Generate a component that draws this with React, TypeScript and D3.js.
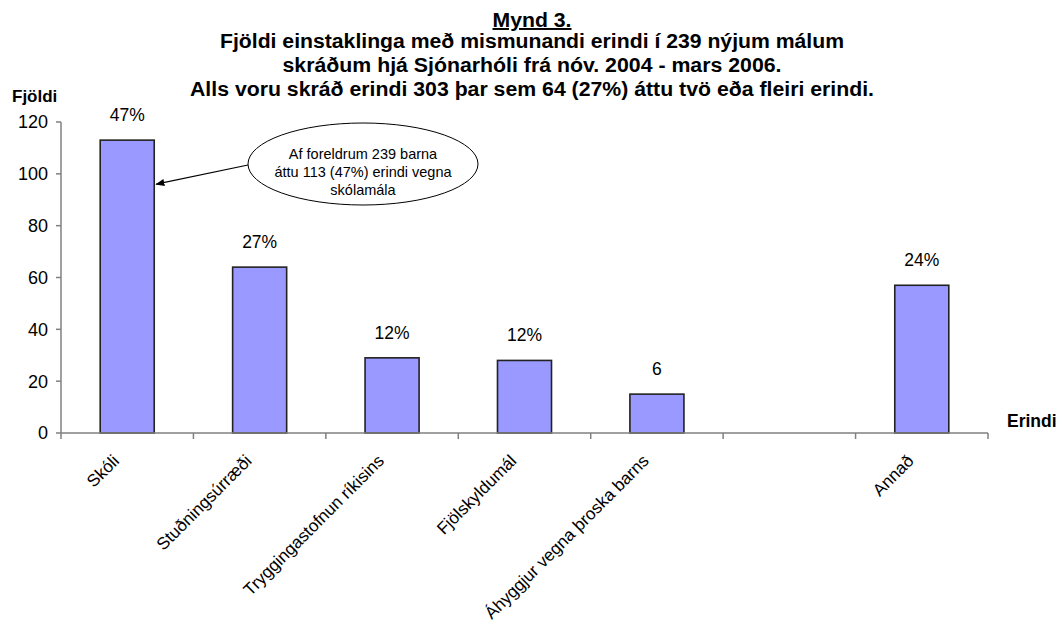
import * as d3 from 'd3'

const categories = ['Skóli', 'Stuðningsúrræði', 'Tryggingastofnun ríkisins', 'Fjölskyldumál', 'Áhyggjur vegna þroska barns', '', 'Annað']
const counts = [113, 64, 29, 28, 15, 0, 57]
const barLabels = ['47%', '27%', '12%', '12%', '6', '', '24%']
const yTicks = [0, 20, 40, 60, 80, 100, 120]
const titleHead = 'Mynd 3.'
const titleLines = [
  'Fjöldi einstaklinga með mismunandi erindi í 239 nýjum málum',
  'skráðum hjá Sjónarhóli frá nóv. 2004 - mars 2006.',
  'Alls voru skráð erindi 303 þar sem 64 (27%) áttu tvö eða fleiri erindi.',
]
const callout = ['Af foreldrum 239 barna', 'áttu 113 (47%) erindi vegna', 'skólamála']

const W = 1061
const H = 626
const FONT = 'Arial, "Liberation Sans", sans-serif'
const AXIS = '#808080'

// title lines: [width, baseline]
const titleBoxes: [number, number][] = [[624, 48], [499, 72], [684, 96]]
const TITLE_CX = 532

export default function App() {
  const left = 61
  const right = 988
  const top = 122
  const bottom = 433

  const keys = categories.map((_, i) => String(i))
  const x = d3.scaleBand<string>().domain(keys).range([left, right]).paddingInner(0.592).paddingOuter(0.296)
  const band = d3.scaleBand<string>().domain(keys).range([left, right])
  const y = d3.scaleLinear().domain([0, 120]).range([bottom, top])

  // arrow points at the Skóli bar, a little below the 100 gridline
  const arrowEndX = (x('0') ?? 0) + x.bandwidth() + 2
  const arrowEndY = y(96)

  return (
    <svg width={W} height={H} style={{ position: 'absolute', left: 0, top: 0, background: '#fff' }} fontFamily={FONT}>
      <defs>
        <marker id="ah" viewBox="0 0 10 10" refX="9" refY="5" markerWidth="9" markerHeight="9" markerUnits="userSpaceOnUse" orient="auto">
          <path d="M0,1 L10,5 L0,9 z" fill="#000" />
        </marker>
      </defs>

      {/* title */}
      <text x={TITLE_CX} y={27} textAnchor="middle" fontSize={19.5} fontWeight="bold" textDecoration="underline"
        textLength={79} lengthAdjust="spacingAndGlyphs">{titleHead}</text>
      {titleLines.map((t, i) => (
        <text key={i} x={TITLE_CX} y={titleBoxes[i][1]} textAnchor="middle" fontSize={19.5} fontWeight="bold"
          textLength={titleBoxes[i][0]} lengthAdjust="spacingAndGlyphs">{t}</text>
      ))}

      {/* axis titles */}
      <text x={12} y={102} fontSize={17} fontWeight="bold">Fjöldi</text>
      <text x={1007} y={427} fontSize={17.5} fontWeight="bold">Erindi</text>

      {/* y axis */}
      <line x1={left} x2={left} y1={top} y2={bottom} stroke={AXIS} strokeWidth={1.5} />
      {yTicks.map((t) => (
        <g key={t}>
          <line x1={left - 5} x2={left} y1={y(t)} y2={y(t)} stroke={AXIS} strokeWidth={1.5} />
          <text x={48} y={y(t)} dy="0.36em" textAnchor="end" fontSize={18}>{t}</text>
        </g>
      ))}

      {/* bars */}
      {counts.map((v, i) => v > 0 && (
        <rect key={i} x={x(String(i))} y={y(v)} width={x.bandwidth()} height={bottom - y(v)} fill="#9999FF" stroke="#222" strokeWidth={1.6} />
      ))}
      {barLabels.map((l, i) => l && (
        <text key={i} x={(x(String(i)) ?? 0) + x.bandwidth() / 2} y={y(counts[i]) - 19} textAnchor="middle" fontSize={17.5}>{l}</text>
      ))}

      {/* x axis */}
      <line x1={left} x2={right} y1={bottom} y2={bottom} stroke={AXIS} strokeWidth={1.5} />
      {d3.range(categories.length + 1).map((i) => {
        const tx = left + i * band.bandwidth()
        return <line key={i} x1={tx} x2={tx} y1={bottom} y2={bottom + 6} stroke={AXIS} strokeWidth={1.5} />
      })}
      {categories.map((c, i) => {
        const cx = (band(String(i)) ?? 0) + band.bandwidth() / 2 - 7
        const cy = bottom + 29
        return (
          <text key={i} transform={`translate(${cx},${cy}) rotate(-45)`} textAnchor="end" fontSize={17.2}>{c}</text>
        )
      })}

      {/* callout */}
      <ellipse cx={363} cy={164} rx={115} ry={41} fill="#fff" stroke="#000" strokeWidth={1} />
      {callout.map((t, i) => (
        <text key={i} x={363} y={159 + i * 18} textAnchor="middle" fontSize={14.5}>{t}</text>
      ))}
      <line x1={248} x2={arrowEndX} y1={165} y2={arrowEndY} stroke="#000" strokeWidth={1.2} markerEnd="url(#ah)" />
    </svg>
  )
}
